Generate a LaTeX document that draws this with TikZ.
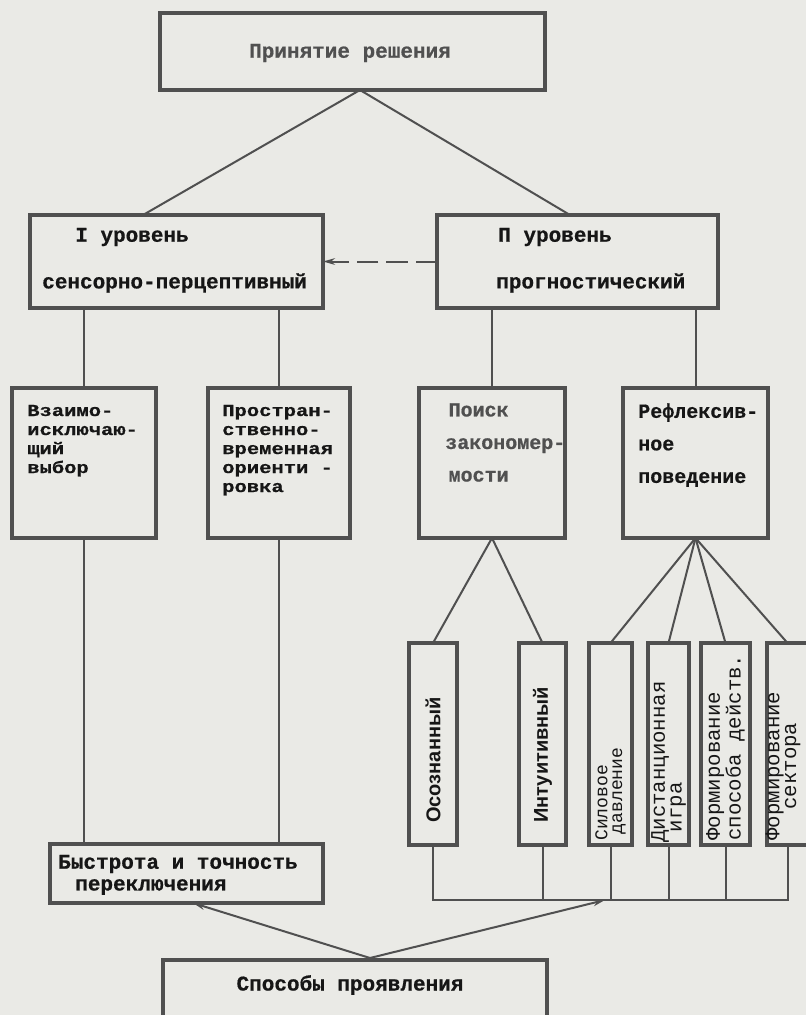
\documentclass[tikz,border=0pt]{standalone}
\usepackage{fontspec}
\newfontfamily\tw{Liberation Mono}[BoldFeatures={FakeBold=0.6}]
\newfontfamily\twx{Liberation Mono}[FakeStretch=1.22,BoldFeatures={FakeBold=0.6}]
\newfontfamily\sansb{Liberation Sans}
\usetikzlibrary{arrows.meta,calc,fit}
\definecolor{paper}{RGB}{234,234,230}
\definecolor{ink}{RGB}{80,80,80}
\definecolor{txt}{RGB}{22,22,22}
\definecolor{txtgray}{RGB}{80,80,80}
\begin{document}
\begin{tikzpicture}[x=0.75pt,y=-0.75pt,
  box/.style={draw=ink,line width=3pt,inner sep=0pt,outer sep=0pt},
  thinbox/.style={draw=ink,line width=2.6pt,inner sep=0pt,outer sep=0pt},
  conn/.style={draw=ink,line width=1.5pt},
  tip/.style={-{Stealth[length=9pt,width=5pt]}},
  lbl/.style={inner sep=0pt,text=txt,font=\tw\bfseries\fontsize{15.75pt}{13.8pt}\selectfont},
  line/.style={inner sep=0pt,text=txt,anchor=base west,font=\twx\bfseries\fontsize{12.6pt}{14pt}\selectfont},
  lblwide/.style={lbl,font=\tw\bfseries\fontsize{15pt}{24.4pt}\selectfont},
  rotsans/.style={inner sep=0pt,text=txt,rotate=90,anchor=west,font=\sansb\bfseries\fontsize{15pt}{15pt}\selectfont},
  rotmono/.style={inner sep=0pt,text=txt,rotate=90,anchor=west,align=left,font=\tw\fontsize{15.5pt}{12.5pt}\selectfont}
]
\useasboundingbox (0,0) rectangle (806,1015);
\fill[paper] (0,0) rectangle (806,1015);
\clip (0,0) rectangle (806,1015);

% boxes
\node[box,fit={(160,13) (545,90)}] (top) {};
\node[box,fit={(30,215) (323,308)}] (lvl1) {};
\node[box,fit={(437,215) (718,308)}] (lvl2) {};
\node[box,fit={(12,388) (156,538)}] (b1) {};
\node[box,fit={(208,388) (350,538)}] (b2) {};
\node[box,fit={(419,388) (565,538)}] (b3) {};
\node[box,fit={(623,388) (768,538)}] (b4) {};
\node[thinbox,fit={(409,643) (457,845)}] (v1) {};
\node[thinbox,fit={(519,643) (566,845)}] (v2) {};
\node[thinbox,fit={(589,643) (632,845)}] (v3) {};
\node[thinbox,fit={(648,643) (689,845)}] (v4) {};
\node[thinbox,fit={(701,643) (750,845)}] (v5) {};
\node[thinbox,fit={(767,643) (808,845)}] (v6) {};
\node[thinbox,fit={(50,844) (323,903)}] (bq) {};
\node[thinbox,fit={(163,960) (547,1040)}] (sp) {};

% texts
\node[lbl,text=txtgray] (ttop) at (350,53) {Принятие решения};
\node[lbl,anchor=west] (t1a) at (75,237) {I уровень};
\node[lbl,anchor=west] (t1b) at (42,283) {сенсорно-перцептивный};
\node[lbl,anchor=west] (t2a) at (498,237) {П уровень};
\node[lbl,anchor=west] (t2b) at (496,283) {прогностический};
\node[line] (tb1a) at (27,416) {Взаимо-};
\node[line] (tb1b) at (27,435) {исключаю-};
\node[line] (tb1c) at (27,454) {щий};
\node[line] (tb1d) at (27,473) {выбор};
\node[line] (tb2a) at (222,416) {Простран-};
\node[line] (tb2b) at (222,435) {ственно-};
\node[line] (tb2c) at (222,454) {временная};
\node[line] (tb2d) at (222,473) {ориенти -};
\node[line] (tb2e) at (222,492) {ровка};
\node[lblwide,text=txtgray,align=left,anchor=north west] (tb3) at (445,403) {\,Поиск\\закономер-\\\,мости};
\node[lblwide,align=left,anchor=north west] (tb4) at (638,403) {Рефлексив-\\ное\\поведение};
\node[rotsans] (tv1) at (433,823) {Осознанный};
\node[rotsans] (tv2) at (542.5,823) {Интуитивный};
\node[rotmono,font=\tw\fontsize{13.5pt}{11pt}\selectfont] (tv3) at (610.5,841) {Силовое\\\hspace*{5pt}давление};
\node[rotmono] (tv4) at (668.5,843) {Дистанционная\\\hspace*{8pt}игра};
\node[rotmono] (tv5) at (725.5,841) {Формирование\\способа действ.};
\node[rotmono,align=center,anchor=center] (tv6) at (783,766) {Формирование\\сектора};
\node[lbl,anchor=west] (tq1) at (58,864) {Быстрота и точность};
\node[lbl,anchor=west] (tq2) at (75,887) {переключения};
\node[lbl] (tsp) at (350,985) {Способы проявления};

% connectors
\draw[conn] ($(top.south west)+(200,0)$) -- ($(lvl1.north west)+(113,0)$);
\draw[conn] ($(top.south west)+(200,0)$) -- ($(lvl2.north west)+(133,0)$);
\draw[conn,dash pattern=on 16pt off 6pt,tip] (lvl2.west) -- (lvl1.east);
\draw[conn] (b1.north) -- (b1.north |- lvl1.south);
\draw[conn] (b2.north) -- (b2.north |- lvl1.south);
\draw[conn] (b3.north) -- (b3.north |- lvl2.south);
\draw[conn] (b4.north) -- (b4.north |- lvl2.south);
\draw[conn] (b3.south) -- (v1.north);
\draw[conn] (b3.south) -- (v2.north);
\draw[conn] (b4.south) -- (v3.north);
\draw[conn] (b4.south) -- (v4.north);
\draw[conn] (b4.south) -- (v5.north);
\draw[conn] (b4.south) -- (v6.north);
\coordinate (hl) at (605,900);
\draw[conn] (v1.south) |- (v6.south |- hl) -- (v6.south);
\draw[conn] (v2.south) -- (v2.south |- hl);
\draw[conn] (v3.south) -- (v3.south |- hl);
\draw[conn] (v4.south) -- (v4.south |- hl);
\draw[conn] (v5.south) -- (v5.south |- hl);
\draw[conn] (b1.south) -- (b1.south |- bq.north);
\draw[conn] (b2.south) -- (b2.south |- bq.north);
\draw[conn,tip] ($(sp.north west)+(207,-2)$) -- ($(bq.south west)+(143,0)$);
\draw[conn,tip] ($(sp.north west)+(207,-2)$) -- (hl);
\end{tikzpicture}
\end{document}
